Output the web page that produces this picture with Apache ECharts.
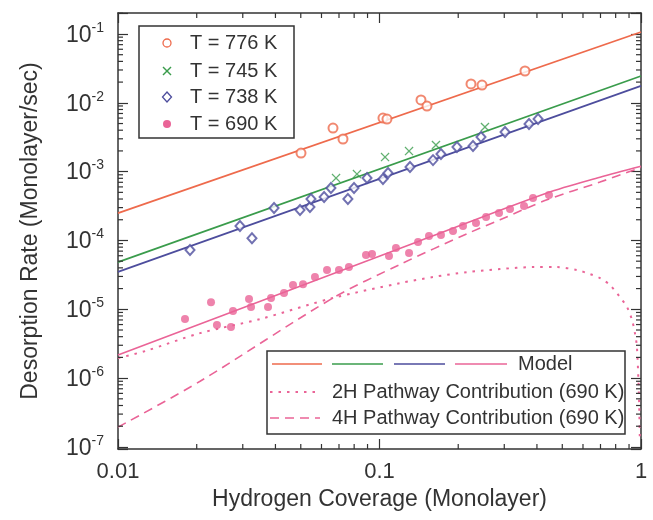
<!DOCTYPE html>
<html><head><meta charset="utf-8">
<script src="https://cdn.jsdelivr.net/npm/echarts@6/dist/echarts.min.js"></script>
<style>html,body{margin:0;padding:0;background:#fff}#c{width:653px;height:520px}</style>
</head><body><div id="c"></div>
<script>
// ---------- data ----------
const xTickValues = [0.01, 0.1, 1];
const xTickLabels = ['0.01', '0.1', '1'];
const yTickExponents = [-7, -6, -5, -4, -3, -2, -1];
const minorMultipliers = [2, 3, 4, 5, 6, 7, 8, 9];

const cov776 = [0.0501, 0.0664, 0.0725, 0.1031, 0.1068, 0.1441, 0.1519, 0.2238, 0.2466, 0.360];
const rate776 = [1.86e-3, 4.30e-3, 2.98e-3, 6.01e-3, 5.81e-3, 1.10e-2, 8.98e-3, 1.88e-2, 1.81e-2, 2.90e-2];

const cov745 = [0.0682, 0.082, 0.105, 0.1297, 0.1644, 0.2531];
const rate745 = [8.07e-4, 9.23e-4, 1.63e-3, 1.99e-3, 2.44e-3, 4.45e-3];

const cov738 = [0.01885, 0.02927, 0.03253, 0.03951, 0.04966, 0.0542, 0.0547, 0.0614, 0.0652, 0.0757, 0.0799, 0.0896, 0.1031, 0.1078, 0.1308, 0.1602, 0.1718, 0.1978, 0.2278, 0.2444, 0.302, 0.373, 0.404];
const rate738 = [7.25e-5, 1.62e-4, 1.08e-4, 2.96e-4, 2.77e-4, 3.06e-4, 4.00e-4, 4.27e-4, 5.78e-4, 4.00e-4, 5.78e-4, 8.07e-4, 7.81e-4, 9.54e-4, 1.166e-3, 1.47e-3, 1.80e-3, 2.28e-3, 2.36e-3, 3.18e-3, 3.76e-3, 4.92e-3, 5.81e-3];

const cov690 = [0.01804, 0.02268, 0.0239, 0.02704, 0.02753, 0.0317, 0.03226, 0.03747, 0.03848, 0.04313, 0.04669, 0.051, 0.05665, 0.063, 0.07, 0.0764, 0.0888, 0.0936, 0.1087, 0.1156, 0.1297, 0.1404, 0.1546, 0.1718, 0.191, 0.2086, 0.2339, 0.2556, 0.2864, 0.3155, 0.357, 0.3864, 0.4447];
const rate690 = [7.20e-6, 1.27e-5, 5.89e-6, 5.51e-6, 9.41e-6, 1.41e-5, 1.08e-5, 1.08e-5, 1.455e-5, 1.72e-5, 2.25e-5, 2.32e-5, 2.94e-5, 3.71e-5, 3.71e-5, 4.11e-5, 6.13e-5, 6.34e-5, 5.93e-5, 7.75e-5, 6.56e-5, 9.48e-5, 1.16e-4, 1.20e-4, 1.37e-4, 1.62e-4, 1.79e-4, 2.19e-4, 2.50e-4, 2.86e-4, 3.16e-4, 4.13e-4, 4.57e-4];

const modelCov = [0.01, 1];
const model776 = [2.5e-4, 0.107];
const model745 = [4.85e-5, 0.0245];
const model738 = [3.5e-5, 0.0176];

const model690Cov = [0.01, 0.139, 0.437, 0.697, 1];
const model690 = [2.16e-6, 9.5e-5, 4.9e-4, 8.3e-4, 1.2e-3];

const path2HCov = [0.01, 0.0127, 0.0206, 0.0349, 0.0664, 0.12, 0.16, 0.216, 0.289, 0.386, 0.477, 0.569, 0.638, 0.697, 0.761, 0.831, 0.884, 0.924, 0.948, 0.965, 0.983, 0.99];
const path2H = [1.95e-6, 2.47e-6, 4.5e-6, 7.2e-6, 1.46e-5, 2.4e-5, 2.94e-5, 3.47e-5, 3.84e-5, 4.1e-5, 4.1e-5, 3.71e-5, 3.25e-5, 2.84e-5, 2.25e-5, 1.5e-5, 1.08e-5, 7.0e-6, 4.5e-6, 2.8e-6, 4.8e-7, 1.2e-7];

const path4HCov = [0.01, 0.0206, 0.0664, 0.12, 0.216, 0.289, 0.437, 0.697, 1];
const path4H = [1.94e-7, 9e-7, 1.46e-5, 4.5e-5, 1.25e-4, 2.0e-4, 3.9e-4, 7.06e-4, 1.15e-3];

// ---------- styling ----------
const C776 = '#EE6A4C', C745 = '#3A9C4C', C738 = '#4D4D9D', C690 = '#EA6497';
const AX = '#333';
const FONT = '"Liberation Sans", Arial, Helvetica, sans-serif';

const zip = (a, b) => a.map((v, i) => [v, b[i]]);

const xMinor = [];
[0.01, 0.1].forEach(d => minorMultipliers.forEach(m => xMinor.push(d * m)));
const yMinor = [];
yTickExponents.forEach(e => minorMultipliers.forEach(m => { const v = m * Math.pow(10, e); if (v <= 0.2) yMinor.push(v); }));

const chart = echarts.init(document.getElementById('c'), null, {renderer: 'canvas'});

function isPow10(v) { const l = Math.log10(v); return Math.abs(l - Math.round(l)) < 1e-6; }

const commonAxisLine = {show: true, lineStyle: {color: AX, width: 1.5}};

const option = {
  animation: false,
  backgroundColor: '#fff',
  textStyle: {fontFamily: FONT},
  grid: {left: 118, right: 12, top: 13, bottom: 71},
  xAxis: [{
    type: 'log', logBase: 10, min: 0.01, max: 1, position: 'bottom',
    axisLine: commonAxisLine,
    axisTick: {show: true, inside: true, length: 10, lineStyle: {color: AX, width: 1.2}},
    splitLine: {show: false},
    axisLabel: {
      margin: 12, fontSize: 22, color: '#333', fontFamily: FONT,
      formatter: v => { const i = xTickValues.findIndex(t => Math.abs(Math.log10(t) - Math.log10(v)) < 1e-6); return i >= 0 ? xTickLabels[i] : ''; }
    },
    name: 'Hydrogen Coverage (Monolayer)', nameLocation: 'middle', nameGap: 36,
    nameTextStyle: {fontSize: 23, color: '#333', fontFamily: FONT}
  }, {
    type: 'log', logBase: 10, min: 0.01, max: 1, position: 'top',
    axisLine: commonAxisLine,
    axisTick: {show: true, inside: true, length: 10, lineStyle: {color: AX, width: 1.2}},
    axisLabel: {show: false}, splitLine: {show: false}
  }],
  yAxis: [{
    type: 'log', logBase: 10, min: Math.pow(10, -7.03), max: Math.pow(10, -0.695), position: 'left', splitNumber: 6,
    axisLine: commonAxisLine,
    axisTick: {show: true, inside: true, length: 10, lineStyle: {color: AX, width: 1.2}},
    splitLine: {show: false},
    axisLabel: {
      margin: 14, color: '#333', fontFamily: FONT,
      formatter: v => {
        if (!isPow10(v)) return '';
        const e = Math.round(Math.log10(v));
        if (yTickExponents.indexOf(e) < 0) return '';
        return '{b|10}{s|' + e + '}';
      },
      rich: {
        b: {fontSize: 23, lineHeight: 26, color: '#333', fontFamily: FONT, verticalAlign: 'bottom'},
        s: {fontSize: 14, lineHeight: 14, color: '#333', fontFamily: FONT, verticalAlign: 'top'}
      }
    },
    name: 'Desorption Rate (Monolayer/sec)', nameLocation: 'middle', nameGap: 76,
    nameTextStyle: {fontSize: 23, color: '#333', fontFamily: FONT}
  }, {
    type: 'log', logBase: 10, min: Math.pow(10, -7.03), max: Math.pow(10, -0.695), position: 'right', splitNumber: 6,
    axisLine: commonAxisLine,
    axisTick: {show: true, inside: true, length: 10, lineStyle: {color: AX, width: 1.2}},
    axisLabel: {show: false}, splitLine: {show: false}
  }],
  series: [
    {type: 'line', name: 'model776', data: zip(modelCov, model776), showSymbol: false, symbol: 'none', lineStyle: {color: C776, width: 1.7}, z: 2},
    {type: 'line', name: 'model745', data: zip(modelCov, model745), showSymbol: false, symbol: 'none', lineStyle: {color: C745, width: 1.7}, z: 2},
    {type: 'line', name: 'model738', data: zip(modelCov, model738), showSymbol: false, symbol: 'none', lineStyle: {color: C738, width: 1.7}, z: 2},
    {type: 'line', name: 'model690', data: zip(model690Cov, model690), showSymbol: false, symbol: 'none', smooth: 0.3, lineStyle: {color: C690, width: 1.6}, z: 2},
    {type: 'line', name: '2H', data: zip(path2HCov, path2H), showSymbol: false, symbol: 'none', smooth: 0.3, lineStyle: {color: C690, width: 2, type: [2.5, 6]}, z: 2},
    {type: 'line', name: '4H', data: zip(path4HCov, path4H), showSymbol: false, symbol: 'none', smooth: 0.3, lineStyle: {color: C690, width: 1.6, type: [9, 6]}, z: 2},
    {type: 'scatter', name: 'T = 776 K', data: zip(cov776, rate776), symbol: 'emptyCircle', symbolSize: 9,
      itemStyle: {color: C776, borderColor: C776, borderWidth: 1.3}, z: 3},
    {type: 'scatter', name: 'T = 745 K', data: zip(cov745, rate745),
      symbol: 'path://M0,1L1,0L5,4L9,0L10,1L6,5L10,9L9,10L5,6L1,10L0,9L4,5Z', symbolSize: 9,
      itemStyle: {color: C745}, z: 3},
    {type: 'scatter', name: 'T = 738 K', data: zip(cov738, rate738), symbol: 'emptyDiamond', symbolSize: [9, 10],
      itemStyle: {color: C738, borderColor: C738, borderWidth: 1.3}, z: 3},
    {type: 'scatter', name: 'T = 690 K', data: zip(cov690, rate690), symbol: 'circle', symbolSize: 8,
      itemStyle: {color: C690}, z: 3},
    {type: 'custom', name: 'xminor', silent: true, clip: false, z: 5,
      data: xMinor.map(v => [v, 1e-3]),
      renderItem: (params, api) => {
        const cs = params.coordSys;
        const x = api.coord([api.value(0), 1e-3])[0];
        const b = cs.y + cs.height, t = cs.y;
        return {type: 'group', children: [
          {type: 'line', shape: {x1: x, y1: b, x2: x, y2: b - 5}, style: {stroke: AX, lineWidth: 1.2}},
          {type: 'line', shape: {x1: x, y1: t, x2: x, y2: t + 5}, style: {stroke: AX, lineWidth: 1.2}}
        ]};
      }
    },
    {type: 'custom', name: 'yminor', silent: true, clip: false, z: 5,
      data: yMinor.map(v => [0.1, v]),
      renderItem: (params, api) => {
        const cs = params.coordSys;
        const y = api.coord([0.1, api.value(1)])[1];
        const l = cs.x, r = cs.x + cs.width;
        return {type: 'group', children: [
          {type: 'line', shape: {x1: l, y1: y, x2: l + 5, y2: y}, style: {stroke: AX, lineWidth: 1.2}},
          {type: 'line', shape: {x1: r, y1: y, x2: r - 5, y2: y}, style: {stroke: AX, lineWidth: 1.2}}
        ]};
      }
    }
  ],
  graphic: [
    // legend 1
    {type: 'rect', z: 100, shape: {x: 139, y: 26, width: 155, height: 112}, style: {fill: '#fff', stroke: AX, lineWidth: 1.5}},
    {type: 'circle', z: 101, shape: {cx: 167, cy: 43, r: 4}, style: {fill: '#fff', stroke: C776, lineWidth: 1.3}},
    {type: 'line', z: 101, shape: {x1: 163, y1: 67, x2: 171, y2: 75}, style: {stroke: C745, lineWidth: 1.4}},
    {type: 'line', z: 101, shape: {x1: 171, y1: 67, x2: 163, y2: 75}, style: {stroke: C745, lineWidth: 1.4}},
    {type: 'polygon', z: 101, shape: {points: [[167, 92], [171.5, 97], [167, 102], [162.5, 97]]}, style: {fill: '#fff', stroke: C738, lineWidth: 1.3}},
    {type: 'circle', z: 101, shape: {cx: 167, cy: 124, r: 4}, style: {fill: C690}},
    {type: 'text', z: 101, style: {x: 190, y: 43, text: 'T = 776 K', font: '20px ' + FONT, fill: '#333', verticalAlign: 'middle'}},
    {type: 'text', z: 101, style: {x: 190, y: 71, text: 'T = 745 K', font: '20px ' + FONT, fill: '#333', verticalAlign: 'middle'}},
    {type: 'text', z: 101, style: {x: 190, y: 97, text: 'T = 738 K', font: '20px ' + FONT, fill: '#333', verticalAlign: 'middle'}},
    {type: 'text', z: 101, style: {x: 190, y: 124, text: 'T = 690 K', font: '20px ' + FONT, fill: '#333', verticalAlign: 'middle'}},
    // legend 2
    {type: 'rect', z: 100, shape: {x: 267, y: 351, width: 358, height: 83}, style: {fill: '#fff', stroke: AX, lineWidth: 1.5}},
    {type: 'line', z: 101, shape: {x1: 272, y1: 364, x2: 322, y2: 364}, style: {stroke: C776, lineWidth: 1.7}},
    {type: 'line', z: 101, shape: {x1: 332, y1: 364, x2: 383, y2: 364}, style: {stroke: C745, lineWidth: 1.7}},
    {type: 'line', z: 101, shape: {x1: 394, y1: 364, x2: 445, y2: 364}, style: {stroke: C738, lineWidth: 1.7}},
    {type: 'line', z: 101, shape: {x1: 455, y1: 364, x2: 507, y2: 364}, style: {stroke: C690, lineWidth: 1.7}},
    {type: 'text', z: 101, style: {x: 518, y: 364, text: 'Model', font: '20px ' + FONT, fill: '#333', verticalAlign: 'middle'}},
    {type: 'line', z: 101, shape: {x1: 270, y1: 392, x2: 320, y2: 392}, style: {stroke: C690, lineWidth: 2, lineDash: [2.5, 6]}},
    {type: 'text', z: 101, style: {x: 332, y: 392, text: '2H Pathway Contribution (690 K)', font: '20px ' + FONT, fill: '#333', verticalAlign: 'middle'}},
    {type: 'line', z: 101, shape: {x1: 270, y1: 418, x2: 320, y2: 418}, style: {stroke: C690, lineWidth: 1.6, lineDash: [9, 6]}},
    {type: 'text', z: 101, style: {x: 332, y: 418, text: '4H Pathway Contribution (690 K)', font: '20px ' + FONT, fill: '#333', verticalAlign: 'middle'}}
  ]
};
chart.setOption(option);
</script>
</body></html>
